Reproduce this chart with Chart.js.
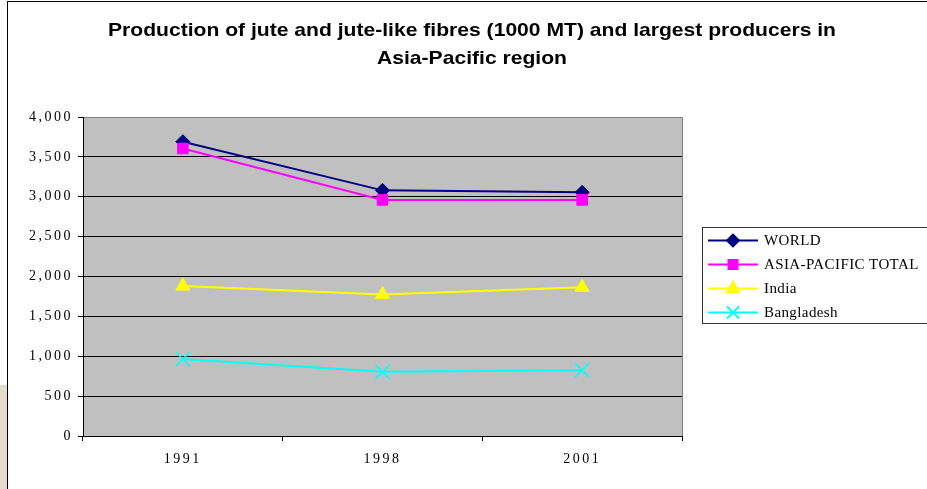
<!DOCTYPE html>
<html>
<head>
<meta charset="utf-8">
<script src="https://cdn.jsdelivr.net/npm/chart.js@4/dist/chart.umd.min.js"></script>
<style>
  html, body { margin: 0; padding: 0; background: #fff; }
  canvas { display: block; }
</style>
</head>
<body>
<canvas id="c" width="927" height="489"></canvas>
<script>
const categories = ['1991', '1998', '2001'];
const world = [3690, 3080, 3055];
const asiaPacific = [3605, 2960, 2960];
const india = [1880, 1775, 1865];
const bangladesh = [965, 805, 825];
const seriesNames = ['WORLD', 'ASIA-PACIFIC TOTAL', 'India', 'Bangladesh'];
const yTicks = { min: 0, max: 4000, step: 500 };
const titleLines = ['Production of jute and jute-like fibres (1000 MT) and largest producers in', 'Asia-Pacific region'];

const serif = '"Liberation Serif", "Times New Roman", serif';

const frame = {
  id: 'frame',
  beforeDraw(chart) {
    const ctx = chart.ctx;
    ctx.save();
    ctx.fillStyle = '#fff';
    ctx.fillRect(0, 0, chart.width, chart.height);
    ctx.fillStyle = '#e4dccd';
    ctx.fillRect(0, 385, 7, chart.height - 385);
    ctx.strokeStyle = '#000';
    ctx.lineWidth = 1;
    ctx.beginPath();
    ctx.moveTo(7.5, 1.5); ctx.lineTo(7.5, chart.height);
    ctx.moveTo(7, 1.5); ctx.lineTo(chart.width, 1.5);
    ctx.stroke();
    const a = chart.chartArea;
    ctx.fillStyle = '#c0c0c0';
    ctx.fillRect(a.left, a.top, a.right - a.left, a.bottom - a.top);
    ctx.strokeStyle = '#808080';
    ctx.beginPath();
    ctx.moveTo(a.left, a.top + 0.5); ctx.lineTo(a.right + 0.5, a.top + 0.5);
    ctx.lineTo(a.right + 0.5, a.bottom);
    ctx.stroke();
    ctx.restore();
    chart.ctx.letterSpacing = '2.5px';
  },
  afterDraw(chart) {
    const ctx = chart.ctx;
    ctx.save();
    ctx.letterSpacing = '0px';
    ctx.fillStyle = '#000';
    ctx.font = 'bold 19px "Liberation Sans", Arial, sans-serif';
    ctx.textAlign = 'center';
    ctx.textBaseline = 'alphabetic';
    const w1 = ctx.measureText(titleLines[0]).width;
    const sx = 728 / w1;
    [36, 64].forEach((y, i) => {
      ctx.save();
      ctx.translate(472, y);
      ctx.scale(sx, 1);
      ctx.fillText(titleLines[i], 0, 0);
      ctx.restore();
    });
    ctx.strokeStyle = '#333';
    ctx.lineWidth = 1;
    ctx.strokeRect(702.5, 227.5, 260, 96);
    ctx.font = '15px ' + serif;
    ctx.letterSpacing = '0.4px';
    ctx.textAlign = 'left';
    ctx.textBaseline = 'middle';
    chart.data.datasets.forEach((ds, i) => {
      const y = 240.5 + i * 24;
      ctx.strokeStyle = ds.borderColor;
      ctx.lineWidth = ds.borderWidth;
      ctx.beginPath();
      ctx.moveTo(708, y); ctx.lineTo(758, y);
      ctx.stroke();
      ctx.fillStyle = ds.pointBackgroundColor;
      ctx.strokeStyle = ds.borderColor;
      Chart.helpers.drawPoint(ctx, {
        pointStyle: ds.pointStyle,
        radius: ds.pointRadius * 0.85,
        rotation: 0,
        borderWidth: ds.pointBorderWidth
      }, 733, y);
      ctx.fillStyle = '#000';
      ctx.fillText(ds.label, 764, y + 1);
    });
    ctx.restore();
  }
};

function ds(label, data, color, style, radius, bw, order) {
  return {
    label, data, order,
    borderColor: color,
    backgroundColor: color,
    pointBackgroundColor: color,
    pointBorderColor: color,
    pointStyle: style,
    pointRadius: radius,
    pointBorderWidth: bw,
    borderWidth: 2,
    tension: 0
  };
}

new Chart(document.getElementById('c'), {
  type: 'line',
  data: {
    labels: categories,
    datasets: [
      ds(seriesNames[0], world, '#000080', 'rectRot', 7, 1, 4),
      ds(seriesNames[1], asiaPacific, '#ff00ff', 'rect', 7.5, 1, 3),
      ds(seriesNames[2], india, '#ffff00', 'triangle', 8, 1, 2),
      ds(seriesNames[3], bangladesh, '#00ffff', 'crossRot', 10, 1.5, 1)
    ]
  },
  options: {
    responsive: false,
    animation: false,
    events: [],
    layout: { padding: { left: 0, top: 117, right: 245, bottom: 0 } },
    plugins: { legend: { display: false }, title: { display: false }, tooltip: { enabled: false } },
    scales: {
      x: {
        offset: true,
        grid: { drawOnChartArea: false, drawTicks: true, tickLength: 5, tickColor: '#000', offset: true },
        border: { display: true, color: '#000', width: 1 },
        ticks: { color: '#000', font: { family: serif, size: 14 }, padding: 10, maxRotation: 0 },
        afterFit(s) { s.height = 53; }
      },
      y: {
        min: yTicks.min, max: yTicks.max,
        ticks: { stepSize: yTicks.step, color: '#000', font: { family: serif, size: 14 }, padding: 5 },
        grid: {
          color: (c) => (c.tick && c.tick.value === yTicks.max) ? '#808080' : '#000',
          tickColor: '#000', tickLength: 5, lineWidth: 1
        },
        border: { display: true, color: '#000', width: 1 },
        afterFit(s) { s.width = 83; }
      }
    }
  },
  plugins: [frame]
});
</script>
</body>
</html>
